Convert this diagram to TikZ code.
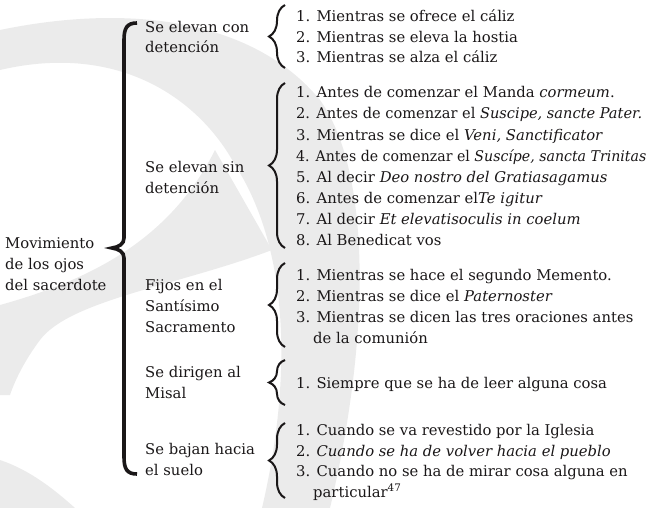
\documentclass[tikz,border=0pt]{standalone}
\usepackage{fontspec}
\usepackage{graphicx}
\setmainfont{DejaVu Serif}
\usetikzlibrary{decorations.pathreplacing}
\definecolor{wmgray}{HTML}{EBEBEB}
\definecolor{ink}{HTML}{1A1718}
\tikzset{
  wm/.style={fill=wmgray, draw=none},
  txt/.style={anchor=base west, inner sep=0pt, text=ink, font=\fontsize{14.8}{21}\selectfont},
  bigbrace/.style={line width=3.6pt, draw=ink, line cap=butt},
  smallbrace/.style={decorate, decoration={brace, amplitude=16pt}, line width=2pt, draw=ink}
}
\begin{document}
\begin{tikzpicture}[x=1pt, y=-1pt]
\useasboundingbox (0,0) rectangle (650,508);
% watermark
\fill[wm] (0,30) .. controls (120,5) and (250,15) .. (320,100) .. controls (370,170) and (372,330) .. (330,508) -- (262,508) .. controls (292,380) and (290,250) .. (235,165) .. controls (200,100) and (120,42) .. (0,70) -- cycle;
\fill[wm] (0,305) .. controls (90,280) and (170,240) .. (215,150) -- (272,250) .. controls (180,285) and (70,300) .. (40,340) .. controls (25,360) and (15,380) .. (10,395) -- (0,395) -- cycle;
\fill[wm] (0,460) .. controls (30,470) and (55,490) .. (75,508) -- (0,508) -- cycle;

% root
\node[txt] (r1) at (5,248) {Movimiento};
\node[txt] (r2) at (5,269) {de los ojos};
\node[txt] (r3) at (5,290) {del sacerdote};
\coordinate (bbtop) at (137,23);
\coordinate (bbtip) at (112,248);
\coordinate (bbbot) at (137,474);
\draw[bigbrace] (bbtop) .. controls (127,23) and (124,28) .. (124,40) -- (124,238)
  .. controls (124,244) and (119,247) .. (bbtip)
  .. controls (119,249) and (124,252) .. (124,258) -- (124,457)
  .. controls (124,469) and (127,474) .. (bbbot);

% categories
\node[txt] (c1a) at (145,33) {Se elevan con};
\node[txt] (c1b) at (145,53) {detención};
\node[txt] (c2a) at (145,172) {Se elevan sin};
\node[txt] (c2b) at (145,193) {detención};
\node[txt] (c3a) at (145,290) {Fijos en el};
\node[txt] (c3b) at (145,311) {Santísimo};
\node[txt] (c3c) at (145,332) {Sacramento};
\node[txt] (c4a) at (145,377) {Se dirigen al};
\node[txt] (c4b) at (145,398) {Misal};
\node[txt] (c5a) at (145,454) {Se bajan hacia};
\node[txt] (c5b) at (145,475) {el suelo};

% small braces
\coordinate (b1t) at (285,5);   \coordinate (b1b) at (285,68);
\coordinate (b2t) at (285,83);  \coordinate (b2b) at (285,248);
\coordinate (b3t) at (285,263); \coordinate (b3b) at (285,347);
\coordinate (b4t) at (285,360); \coordinate (b4b) at (285,405);
\coordinate (b5t) at (285,423); \coordinate (b5b) at (285,498);
\draw[smallbrace] (b1b) -- (b1t);
\draw[smallbrace] (b2b) -- (b2t);
\draw[smallbrace] (b3b) -- (b3t);
\draw[smallbrace] (b4b) -- (b4t);
\draw[smallbrace] (b5b) -- (b5t);

% group 1
\node[txt] (g1i1) at (296,22) {1. Mientras se ofrece el cáliz};
\node[txt] (g1i2) at (296,42.5) {2. Mientras se eleva la hostia};
\node[txt] (g1i3) at (296,63) {3. Mientras se alza el cáliz};
% group 2
\node[txt] (g2i1) at (296,98) {1. Antes de comenzar el Manda \textit{cormeum}.};
\node[txt] (g2i2) at (296,119) {\scalebox{0.985}[1]{2. Antes de comenzar el \textit{Suscipe, sancte Pater.}}};
\node[txt] (g2i3) at (296,140) {3. Mientras se dice el \textit{Veni, Sanctificator}};
\node[txt] (g2i4) at (296,161) {\scalebox{0.955}[1]{4. Antes de comenzar el \textit{Suscípe, sancta Trinitas}}};
\node[txt] (g2i5) at (296,182) {5. Al decir \textit{Deo nostro del Gratiasagamus}};
\node[txt] (g2i6) at (296,203) {6. Antes de comenzar el\textit{Te igitur}};
\node[txt] (g2i7) at (296,224) {7. Al decir \textit{Et elevatisoculis in coelum}};
\node[txt] (g2i8) at (296,245) {8. Al Benedicat vos};
% group 3
\node[txt] (g3i1) at (296,280) {1. Mientras se hace el segundo Memento.};
\node[txt] (g3i2) at (296,301) {2. Mientras se dice el \textit{Paternoster}};
\node[txt] (g3i3) at (296,322) {3. Mientras se dicen las tres oraciones antes};
\node[txt] (g3i3b) at (313,343) {de la comunión};
% group 4
\node[txt] (g4i1) at (296,388) {1. Siempre que se ha de leer alguna cosa};
% group 5
\node[txt] (g5i1) at (296,435) {1. Cuando se va revestido por la Iglesia};
\node[txt] (g5i2) at (296,456) {2. \textit{Cuando se ha de volver hacia el pueblo}};
\node[txt] (g5i3) at (296,476) {3. Cuando no se ha de mirar cosa alguna en};
\node[txt] (g5i3b) at (313,497) {particular\textsuperscript{47}};
\end{tikzpicture}
\end{document}
